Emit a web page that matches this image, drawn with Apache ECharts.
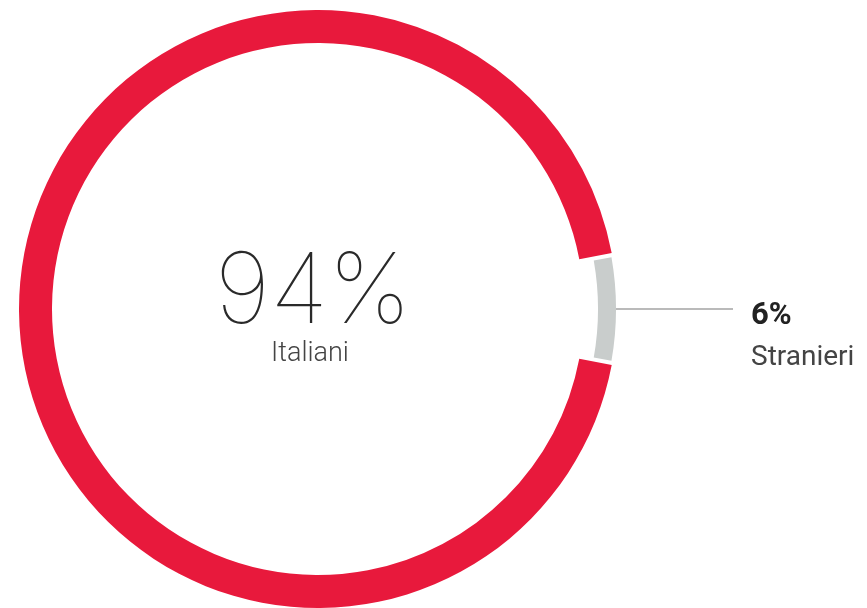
<!DOCTYPE html>
<html>
<head>
<meta charset="utf-8">
<script src="https://cdn.jsdelivr.net/npm/echarts@6/dist/echarts.min.js"></script>
<style>
  html, body { margin: 0; padding: 0; background: #fff; }
  #chart { width: 867px; height: 608px; }
</style>
</head>
<body>
<div id="chart"></div>
<script>
// dati
var categories = ["Stranieri", "Italiani"];
var values = [6, 94];
var colors = ["#C9CDCC", "#E8193C"];

var chart = echarts.init(document.getElementById("chart"));

// serie rossa (Italiani) e serie grigia (Stranieri), stesso ordine
var redData = categories.map(function (name, i) {
  var item = { name: name, value: values[i] };
  if (i === 1) {
    item.itemStyle = { color: colors[1] };
    item.label = {
      show: true,
      position: "center",
      formatter: "{v|{c}%}\n{n|{b}}",
      rich: {
        v: { fontFamily: "Inter", fontWeight: 100, fontSize: 98, color: "#2a2a2a", lineHeight: 90, padding: [0, 0, 0, -10] },
        n: { fontFamily: "Roboto", fontWeight: 300, fontSize: 27, color: "#444", lineHeight: 30, padding: [0, 0, 0, -16] }
      }
    };
  } else {
    item.itemStyle = { color: "transparent" };
    item.label = { show: false };
  }
  return item;
});

var greyData = categories.map(function (name, i) {
  var item = { name: name, value: values[i] };
  if (i === 0) {
    item.itemStyle = { color: colors[0] };
    item.label = {
      show: true,
      position: "outside",
      formatter: "{v|{c}%}\n{n|{b}}",
      padding: [64, 0, 0, 0],
      distanceToLabelLine: 18,
      rich: {
        v: { fontFamily: "Roboto", fontWeight: "bold", fontSize: 31, color: "#222", lineHeight: 34 },
        n: { fontFamily: "Roboto", fontSize: 28, color: "#444", lineHeight: 50 }
      }
    };
    item.labelLine = { show: true, length: 10, length2: 107, lineStyle: { color: "#777", width: 1.2 } };
  } else {
    item.itemStyle = { color: "transparent" };
    item.label = { show: false };
    item.labelLine = { show: false };
  }
  return item;
});

var option = {
  backgroundColor: "#fff",
  animation: false,
  series: [
    {
      type: "pie",
      center: [318, 309],
      radius: [266, 299],
      startAngle: 10.8,
      clockwise: true,
      silent: true,
      avoidLabelOverlap: false,
      data: redData
    },
    {
      type: "pie",
      center: [318, 309],
      radius: [280, 298],
      startAngle: 10.8,
      clockwise: true,
      padAngle: 1.6,
      silent: true,
      avoidLabelOverlap: false,
      data: greyData
    }
  ]
};
chart.setOption(option);
</script>
</body>
</html>
